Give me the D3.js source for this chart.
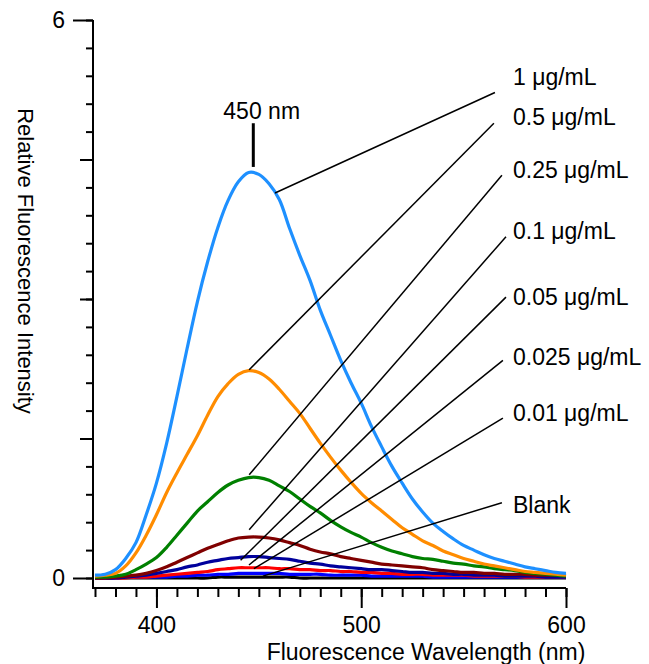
<!DOCTYPE html>
<html>
<head>
<meta charset="utf-8">
<script src="https://cdn.jsdelivr.net/npm/d3@7"></script>
<style>
  body { margin: 0; background: #fff; }
  text { font-family: "Liberation Sans", Arial, Helvetica, sans-serif; fill: #000; }
</style>
</head>
<body>
<div id="chart"></div>
<script>
// wavelengths (nm), sampled every 5 nm
const wavelengths = [370, 375, 380, 385, 390, 395, 400, 405, 410, 415,
  420, 425, 430, 435, 440, 445, 450, 455, 460, 465,
  470, 475, 480, 485, 490, 495, 500, 505, 510, 515,
  520, 525, 530, 535, 540, 545, 550, 555, 560, 565,
  570, 575, 580, 585, 590, 595, 600];

const conc_1 = [0.03, 0.04, 0.09, 0.21, 0.38, 0.68, 1.02, 1.45, 1.95, 2.47,
  2.97, 3.40, 3.77, 4.06, 4.26, 4.36, 4.34, 4.24, 4.07, 3.76,
  3.47, 3.20, 2.88, 2.61, 2.34, 2.10, 1.88, 1.63, 1.41, 1.20,
  1.02, 0.85, 0.71, 0.59, 0.50, 0.42, 0.35, 0.30, 0.25, 0.21,
  0.18, 0.15, 0.12, 0.10, 0.08, 0.06, 0.05];
const conc_05 = [0.02, 0.03, 0.05, 0.13, 0.27, 0.46, 0.68, 0.92, 1.13, 1.33,
  1.53, 1.75, 1.95, 2.09, 2.19, 2.23, 2.21, 2.14, 2.03, 1.90,
  1.77, 1.61, 1.45, 1.30, 1.16, 1.03, 0.91, 0.81, 0.72, 0.63,
  0.54, 0.47, 0.40, 0.35, 0.29, 0.25, 0.21, 0.18, 0.15, 0.13,
  0.11, 0.09, 0.07, 0.06, 0.05, 0.04, 0.03];
const conc_025 = [0.01, 0.01, 0.02, 0.04, 0.09, 0.15, 0.22, 0.33, 0.46, 0.59,
  0.72, 0.82, 0.92, 1.00, 1.05, 1.08, 1.08, 1.05, 0.99, 0.93,
  0.85, 0.77, 0.70, 0.62, 0.55, 0.49, 0.44, 0.38, 0.33, 0.29,
  0.26, 0.23, 0.21, 0.20, 0.18, 0.16, 0.15, 0.13, 0.12, 0.10,
  0.09, 0.08, 0.06, 0.05, 0.04, 0.03, 0.02];
const conc_01 = [0.00, 0.00, 0.01, 0.02, 0.03, 0.05, 0.08, 0.12, 0.17, 0.22,
  0.27, 0.32, 0.36, 0.40, 0.43, 0.44, 0.44, 0.43, 0.41, 0.38,
  0.35, 0.31, 0.28, 0.26, 0.23, 0.21, 0.19, 0.17, 0.15, 0.14,
  0.13, 0.12, 0.11, 0.09, 0.08, 0.07, 0.06, 0.06, 0.05, 0.05,
  0.04, 0.04, 0.04, 0.03, 0.03, 0.03, 0.03];
const conc_005 = [0.00, 0.00, 0.00, 0.01, 0.02, 0.03, 0.05, 0.07, 0.09, 0.12,
  0.14, 0.17, 0.19, 0.21, 0.22, 0.23, 0.23, 0.22, 0.21, 0.20,
  0.18, 0.16, 0.15, 0.13, 0.12, 0.11, 0.10, 0.09, 0.09, 0.08,
  0.07, 0.06, 0.06, 0.05, 0.05, 0.04, 0.04, 0.03, 0.03, 0.03,
  0.02, 0.02, 0.02, 0.02, 0.01, 0.01, 0.01];
const conc_0025 = [0.00, 0.00, 0.00, 0.00, 0.01, 0.01, 0.02, 0.03, 0.04, 0.05,
  0.06, 0.07, 0.09, 0.10, 0.11, 0.11, 0.11, 0.11, 0.10, 0.10,
  0.09, 0.09, 0.08, 0.08, 0.07, 0.07, 0.06, 0.06, 0.05, 0.05,
  0.04, 0.04, 0.04, 0.03, 0.03, 0.03, 0.03, 0.02, 0.02, 0.02,
  0.02, 0.02, 0.01, 0.01, 0.01, 0.01, 0.01];
const conc_001 = [0.00, 0.00, 0.00, 0.01, 0.01, 0.01, 0.01, 0.01, 0.02, 0.02,
  0.03, 0.03, 0.04, 0.04, 0.05, 0.05, 0.05, 0.05, 0.05, 0.04,
  0.04, 0.04, 0.04, 0.03, 0.03, 0.03, 0.03, 0.02, 0.02, 0.02,
  0.02, 0.02, 0.02, 0.01, 0.01, 0.01, 0.01, 0.01, 0.01, 0.01,
  0.01, 0.01, 0.01, 0.01, 0.01, 0.01, 0.01];
const blank = [0.00, 0.00, 0.00, 0.00, 0.00, 0.00, 0.00, 0.00, 0.00, 0.00,
  0.00, 0.00, 0.01, 0.01, 0.01, 0.01, 0.01, 0.01, 0.01, 0.01,
  0.00, 0.00, 0.00, 0.00, 0.00, 0.00, 0.00, 0.00, 0.00, 0.00,
  0.00, 0.00, 0.00, 0.00, 0.00, 0.00, 0.00, 0.00, 0.00, 0.00,
  0.00, 0.00, 0.00, 0.00, 0.00, 0.00, 0.00];

// drawn bottom to top
const seriesValues = [blank, conc_001, conc_0025, conc_005, conc_01, conc_025, conc_05, conc_1];
const seriesColors = ["#000000", "#0000ff", "#ff0000", "#00009c", "#800000", "#008000", "#ff8c00", "#1e90ff"];

// callout labels, top to bottom
const calloutLabels = ["1 μg/mL", "0.5 μg/mL", "0.25 μg/mL", "0.1 μg/mL", "0.05 μg/mL", "0.025 μg/mL", "0.01 μg/mL", "Blank"];
const calloutAnchorNm = [457.9, 445.3, 445.3, 445.3, 441.1, 445.2, 447.6, 452.0];
const calloutAnchorVal = [4.14, 2.24, 1.11, 0.52, 0.19, 0.14, 0.10, 0.02];
const calloutEndNm = [565.3, 564.8, 568.7, 570.7, 570.7, 569.2, 569.2, 568.7];
const calloutEndVal = [5.22, 4.89, 4.33, 3.67, 3.02, 2.34, 1.72, 0.81];
const calloutTextNm = 574.1;
const calloutTextVal = [5.30, 4.87, 4.30, 3.65, 2.94, 2.29, 1.69, 0.70];

const peakLabel = "450 nm";
const peakNm = 447.3;
const peakTickVal = [4.42, 4.89];
const peakTextNm = 451.4;
const peakTextVal = 4.935;

const xMajorTicks = [400, 500, 600];
const xMinorTicks = d3.range(370, 601, 10);
const yLabelTicks = [0, 6];
const yMajorTicks = [1.5, 3, 4.5];
const yMinorTicks = d3.range(0, 61, 3).map(d => d / 10);

const fontSize = 23;

const svg = d3.select("#chart")
  .append("svg")
  .attr("width", 649)
  .attr("height", 664);

const x = d3.scaleLinear().domain([370, 600]).range([95, 566]);
const y = d3.scaleLinear().domain([0, 6]).range([578, 20]);
const axisX = 93;   // y axis line position
const axisY = 588;  // x axis line position

// curves
const line = d3.line()
  .x((d, i) => x(wavelengths[i]))
  .y(d => y(d))
  .curve(d3.curveCatmullRom);

svg.append("g")
  .selectAll("path")
  .data(seriesValues)
  .join("path")
  .attr("d", d => line(d))
  .attr("fill", "none")
  .attr("stroke", (d, i) => seriesColors[i])
  .attr("stroke-width", 3.2)
  .attr("stroke-linejoin", "round");

// y axis
function styleAxis(g) {
  g.select(".domain").remove();
  g.selectAll(".tick line").attr("stroke", "#000").attr("stroke-width", 2);
  g.selectAll(".tick text").attr("font-size", fontSize).attr("font-family", null);
}
svg.append("g")
  .attr("transform", `translate(${axisX},0)`)
  .call(d3.axisLeft(y).tickValues(yMinorTicks).tickSize(7).tickFormat(""))
  .call(styleAxis);
svg.append("g")
  .attr("transform", `translate(${axisX},0)`)
  .call(d3.axisLeft(y).tickValues(yMajorTicks).tickSize(13).tickFormat(""))
  .call(styleAxis);
svg.append("g")
  .attr("transform", `translate(${axisX},0)`)
  .call(d3.axisLeft(y).tickValues(yLabelTicks).tickSize(20).tickPadding(8).tickFormat(d3.format("d")))
  .call(styleAxis);

// x axis
svg.append("g")
  .attr("transform", `translate(0,${axisY})`)
  .call(d3.axisBottom(x).tickValues(xMinorTicks).tickSize(9).tickFormat(""))
  .call(styleAxis);
svg.append("g")
  .attr("transform", `translate(0,${axisY})`)
  .call(d3.axisBottom(x).tickValues(xMajorTicks).tickSize(20).tickPadding(9).tickFormat(d3.format("d")))
  .call(styleAxis);

// axis lines (meeting at the corner)
svg.append("path")
  .attr("d", `M${axisX},${y(6)}V${axisY}H${x(600)}`)
  .attr("fill", "none")
  .attr("stroke", "#000")
  .attr("stroke-width", 2);

// axis titles
svg.append("text")
  .attr("x", 426)
  .attr("y", 660)
  .attr("text-anchor", "middle")
  .attr("font-size", fontSize)
  .text("Fluorescence Wavelength (nm)");

svg.append("text")
  .attr("transform", "translate(18,261) rotate(90)")
  .attr("text-anchor", "middle")
  .attr("font-size", 22)
  .text("Relative Fluorescence Intensity");

// peak marker
svg.append("line")
  .attr("x1", x(peakNm)).attr("x2", x(peakNm))
  .attr("y1", y(peakTickVal[0])).attr("y2", y(peakTickVal[1]))
  .attr("stroke", "#000")
  .attr("stroke-width", 3);
svg.append("text")
  .attr("x", x(peakTextNm))
  .attr("y", y(peakTextVal))
  .attr("text-anchor", "middle")
  .attr("font-size", fontSize)
  .text(peakLabel);

// callouts
const callouts = svg.append("g");
callouts.selectAll("line")
  .data(calloutLabels)
  .join("line")
  .attr("x1", (d, i) => x(calloutAnchorNm[i]))
  .attr("y1", (d, i) => y(calloutAnchorVal[i]))
  .attr("x2", (d, i) => x(calloutEndNm[i]))
  .attr("y2", (d, i) => y(calloutEndVal[i]))
  .attr("stroke", "#000")
  .attr("stroke-width", 1.5);
callouts.selectAll("text")
  .data(calloutLabels)
  .join("text")
  .attr("x", x(calloutTextNm))
  .attr("y", (d, i) => y(calloutTextVal[i]))
  .attr("font-size", fontSize)
  .text(d => d);
</script>
</body>
</html>
